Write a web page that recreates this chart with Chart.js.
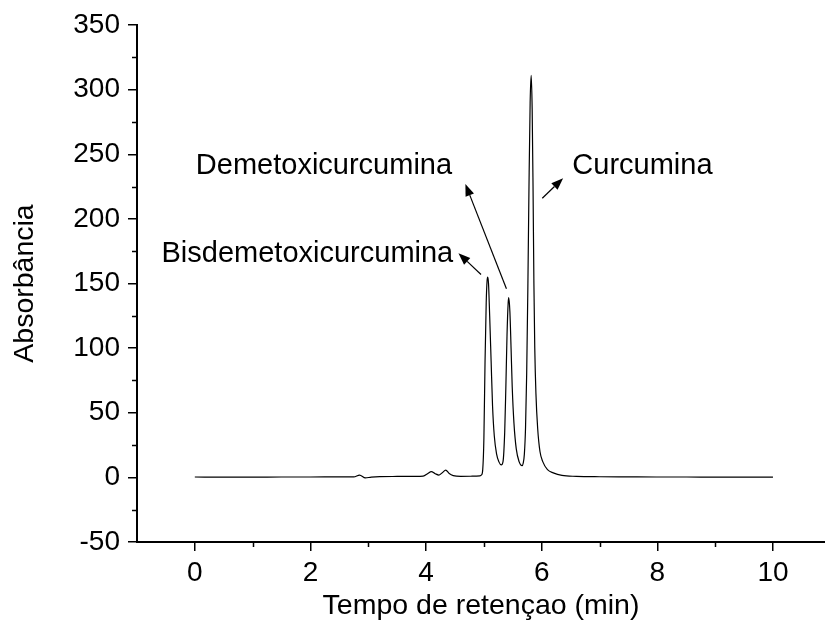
<!DOCTYPE html>
<html>
<head>
<meta charset="utf-8">
<script src="https://cdn.jsdelivr.net/npm/chart.js@4/dist/chart.umd.min.js"></script>
<style>
html,body{margin:0;padding:0;background:#ffffff;}
#wrap{width:825px;height:637px;}
</style>
</head>
<body>
<div id="wrap"><canvas id="chart" width="825" height="637"></canvas></div>
<script>
// ---- data ----
const retentionTime = [
  0, 0.5, 1.0, 1.5, 2.0, 2.5, 2.75, 2.85, 2.95, 3.05, 3.2, 3.5, 3.8, 3.95,
  4.03, 4.09, 4.16, 4.22, 4.28, 4.34, 4.40, 4.47, 4.6, 4.8, 4.93,
  4.96, 4.98, 5.00, 5.02, 5.04, 5.055, 5.067, 5.08, 5.10, 5.125, 5.15, 5.18, 5.22, 5.26, 5.30,
  5.33, 5.36, 5.38, 5.40, 5.42, 5.43, 5.45, 5.47, 5.49, 5.52, 5.56, 5.61, 5.66,
  5.68, 5.70, 5.72, 5.74, 5.76, 5.78, 5.80, 5.818, 5.835, 5.85, 5.865, 5.88, 5.90, 5.93, 5.97,
  6.02, 6.10, 6.20, 6.35, 6.6, 7.0, 7.5, 8.0, 8.5, 9.0, 9.5, 10.0
];
const absorbance = [
  0.3, 0.2, 0.2, 0.3, 0.3, 0.4, 0.4, 1.8, -0.4, 0.2, 0.6, 0.7, 0.8, 1.0,
  3.0, 4.5, 2.8, 1.8, 3.6, 5.6, 3.0, 1.4, 0.8, 0.9, 1.2,
  2, 6, 30, 90, 135, 152, 155, 150, 125, 90, 55, 32, 18, 12, 9.6,
  12, 35, 70, 110, 135, 139, 128, 100, 70, 42, 22, 12, 9,
  11, 18, 38, 80, 145, 225, 290, 311, 285, 225, 150, 100, 65, 38, 20,
  12, 6, 3.5, 1.5, 0.8, 0.5, 0.4, 0.3, 0.3, 0.2, 0.2, 0.2
];
const xTickValues = [0, 2, 4, 6, 8, 10];
const xMinorTickValues = [1, 3, 5, 7, 9];
const yTickValues = [-50, 0, 50, 100, 150, 200, 250, 300, 350];
const yMinorTickValues = [-25, 25, 75, 125, 175, 225, 275, 325];
const peakNames = ['Bisdemetoxicurcumina', 'Demetoxicurcumina', 'Curcumina'];

// ---- annotation placement (data coordinates) ----
const annotationLayout = [
  { textX: 4.47, textY: 173, align: 'right', tail: [4.95, 157], head: [4.56, 173.5] },
  { textX: 4.45, textY: 241, align: 'right', tail: [5.39, 146], head: [4.68, 227] },
  { textX: 6.53, textY: 241, align: 'left',  tail: [6.01, 216], head: [6.37, 231.5] }
];

const FONT = '"Liberation Sans", Arial, Helvetica, sans-serif';

const minorTicksPlugin = {
  id: 'minorTicks',
  afterDraw(chart) {
    const ctx = chart.ctx;
    const xs = chart.scales.x, ys = chart.scales.y;
    const area = chart.chartArea;
    ctx.save();
    ctx.strokeStyle = '#000';
    ctx.lineWidth = 1.5;
    ctx.beginPath();
    xMinorTickValues.forEach(v => {
      const px = Math.round(xs.getPixelForValue(v)) + 0.5;
      ctx.moveTo(px, area.bottom);
      ctx.lineTo(px, area.bottom + 5);
    });
    yMinorTickValues.forEach(v => {
      const py = Math.round(ys.getPixelForValue(v)) + 0.5;
      ctx.moveTo(area.left, py);
      ctx.lineTo(area.left - 5, py);
    });
    ctx.stroke();
    ctx.restore();
  }
};

const annotationPlugin = {
  id: 'peakAnnotations',
  afterDraw(chart) {
    const ctx = chart.ctx;
    const xs = chart.scales.x, ys = chart.scales.y;
    ctx.save();
    ctx.fillStyle = '#000';
    ctx.strokeStyle = '#000';
    ctx.font = '29px ' + FONT;
    ctx.textBaseline = 'middle';
    annotationLayout.forEach((a, i) => {
      ctx.textAlign = a.align;
      ctx.fillText(peakNames[i], xs.getPixelForValue(a.textX), ys.getPixelForValue(a.textY));
      const x1 = xs.getPixelForValue(a.tail[0]), y1 = ys.getPixelForValue(a.tail[1]);
      const x2 = xs.getPixelForValue(a.head[0]), y2 = ys.getPixelForValue(a.head[1]);
      const ang = Math.atan2(y2 - y1, x2 - x1);
      const hl = 12, hw = 4.5;
      const bx = x2 - hl * Math.cos(ang), by = y2 - hl * Math.sin(ang);
      ctx.lineWidth = 1.2;
      ctx.beginPath();
      ctx.moveTo(x1, y1);
      ctx.lineTo(bx, by);
      ctx.stroke();
      ctx.beginPath();
      ctx.moveTo(x2, y2);
      ctx.lineTo(bx + hw * Math.sin(ang), by - hw * Math.cos(ang));
      ctx.lineTo(bx - hw * Math.sin(ang), by + hw * Math.cos(ang));
      ctx.closePath();
      ctx.fill();
    });
    ctx.restore();
  }
};

const points = retentionTime.map((t, i) => ({ x: t, y: absorbance[i] }));

new Chart(document.getElementById('chart'), {
  type: 'line',
  data: {
    datasets: [{
      data: points,
      borderColor: '#000000',
      borderWidth: 1.2,
      pointRadius: 0,
      fill: false,
      cubicInterpolationMode: 'monotone'
    }]
  },
  options: {
    responsive: false,
    animation: false,
    devicePixelRatio: 1,
    layout: { padding: { top: 25, right: 0, bottom: 0, left: 0 } },
    plugins: { legend: { display: false }, tooltip: { enabled: false } },
    scales: {
      x: {
        type: 'linear',
        min: -1,
        max: 10.9,
        afterBuildTicks: s => { s.ticks = xTickValues.map(v => ({ value: v })); },
        afterFit: s => { s.height = 95; },
        border: { display: true, color: '#000', width: 2 },
        grid: { display: true, drawOnChartArea: false, drawTicks: true, tickLength: 9, color: '#000', lineWidth: 1.5 },
        ticks: { color: '#000', font: { family: FONT, size: 28 }, padding: 5, maxRotation: 0 },
        title: { display: true, text: 'Tempo de retençao (min)', color: '#000', font: { family: FONT, size: 28.5 }, padding: { top: 0, bottom: 14 } }
      },
      y: {
        type: 'linear',
        min: -50,
        max: 350,
        afterBuildTicks: s => { s.ticks = yTickValues.map(v => ({ value: v })); },
        afterFit: s => { s.width = 137; },
        border: { display: true, color: '#000', width: 2 },
        grid: { display: true, drawOnChartArea: false, drawTicks: true, tickLength: 9, color: '#000', lineWidth: 1.5 },
        ticks: { color: '#000', font: { family: FONT, size: 28 }, padding: 8 },
        title: { display: true, text: 'Absorbância', color: '#000', font: { family: FONT, size: 28.5 }, padding: { top: 8, bottom: 0 } }
      }
    }
  },
  plugins: [minorTicksPlugin, annotationPlugin]
});
</script>
</body>
</html>
